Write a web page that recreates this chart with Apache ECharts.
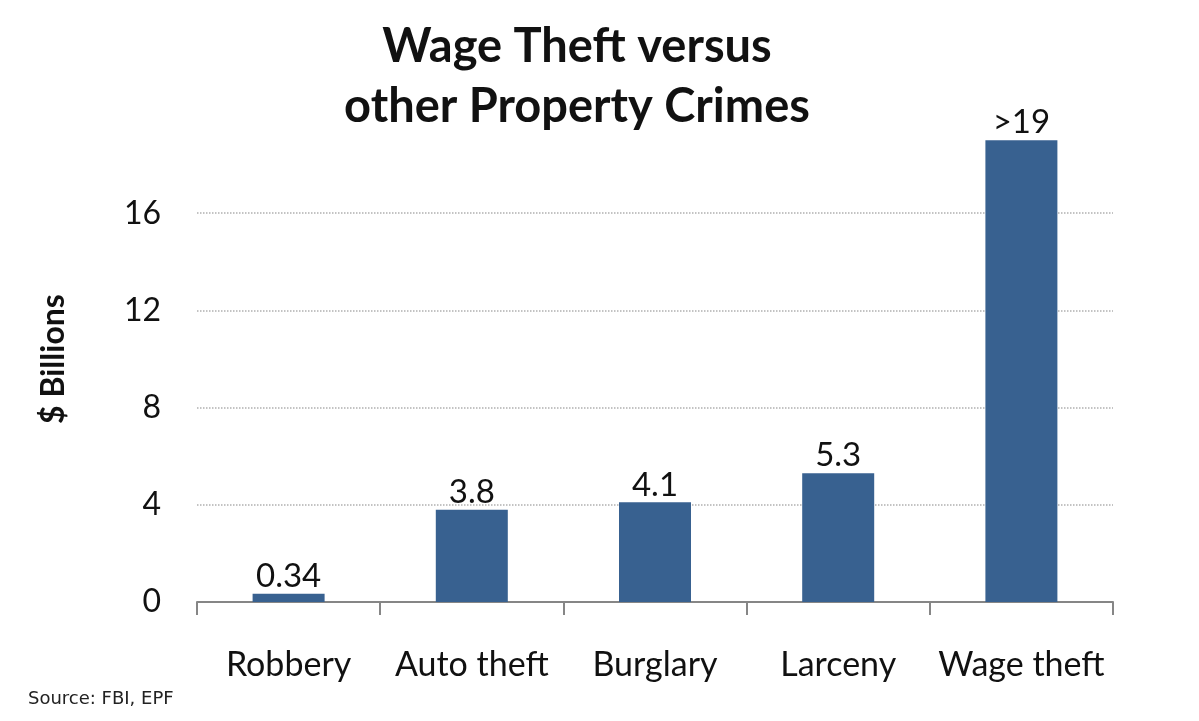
<!DOCTYPE html>
<html>
<head>
<meta charset="utf-8">
<script src="https://cdn.jsdelivr.net/npm/echarts@6/dist/echarts.min.js"></script>
<style>html,body{margin:0;padding:0;background:#fff;}#c{width:1199px;height:721px;}</style>
</head>
<body>
<div id="c"></div>
<script>
const categories = ['Robbery', 'Auto theft', 'Burglary', 'Larceny', 'Wage theft'];
const values = [0.34, 3.8, 4.1, 5.3, 19];
const valueLabels = ['0.34', '3.8', '4.1', '5.3', '>19'];
const yTicks = [0, 4, 8, 12, 16];

const FONT = 'Lato, "Open Sans", sans-serif';
const chart = echarts.init(document.getElementById('c'));
chart.setOption({
  animation: false,
  backgroundColor: '#ffffff',
  title: {
    text: 'Wage Theft versus\nother Property Crimes',
    left: 572, top: 12, textAlign: 'center',
    textStyle: { fontFamily: FONT, fontSize: 47, fontWeight: 'bold', color: '#111', lineHeight: 60 }
  },
  graphic: [{
    type: 'text', left: 28, top: 690,
    style: { text: 'Source: FBI, EPF', fontFamily: '"DejaVu Sans", sans-serif', fontSize: 18, fill: '#222' }
  }],
  grid: { left: 197, right: 86, top: 116, bottom: 119 },
  xAxis: {
    type: 'category',
    data: categories,
    axisLine: { show: true, lineStyle: { color: '#868686', width: 2 } },
    axisTick: { show: true, length: 13, interval: 0, alignWithLabel: false, lineStyle: { color: '#868686', width: 2 } },
    axisLabel: { interval: 0, hideOverlap: false, margin: 46, fontFamily: FONT, fontSize: 34, color: '#111' }
  },
  yAxis: {
    type: 'value', min: 0, max: 20, interval: 4,
    name: '$ Billions', nameLocation: 'middle', nameGap: 127,
    nameTextStyle: { fontFamily: FONT, fontSize: 32, fontWeight: 'bold', color: '#111' },
    axisLine: { show: false }, axisTick: { show: false },
    axisLabel: {
      margin: 36, fontFamily: FONT, fontSize: 32, color: '#111', showMaxLabel: false,
      formatter: v => yTicks.indexOf(v) >= 0 ? String(v) : ''
    },
    splitLine: { showMaxLine: false, lineStyle: { type: 'dotted', color: '#b0b0b0', width: 1.5 } }
  },
  series: [{
    type: 'bar',
    data: values,
    barWidth: 72,
    itemStyle: { color: '#386190' },
    label: {
      show: true, position: 'top', distance: 1,
      fontFamily: FONT, fontSize: 33, color: '#111',
      formatter: p => valueLabels[p.dataIndex]
    }
  }]
});
</script>
</body>
</html>
